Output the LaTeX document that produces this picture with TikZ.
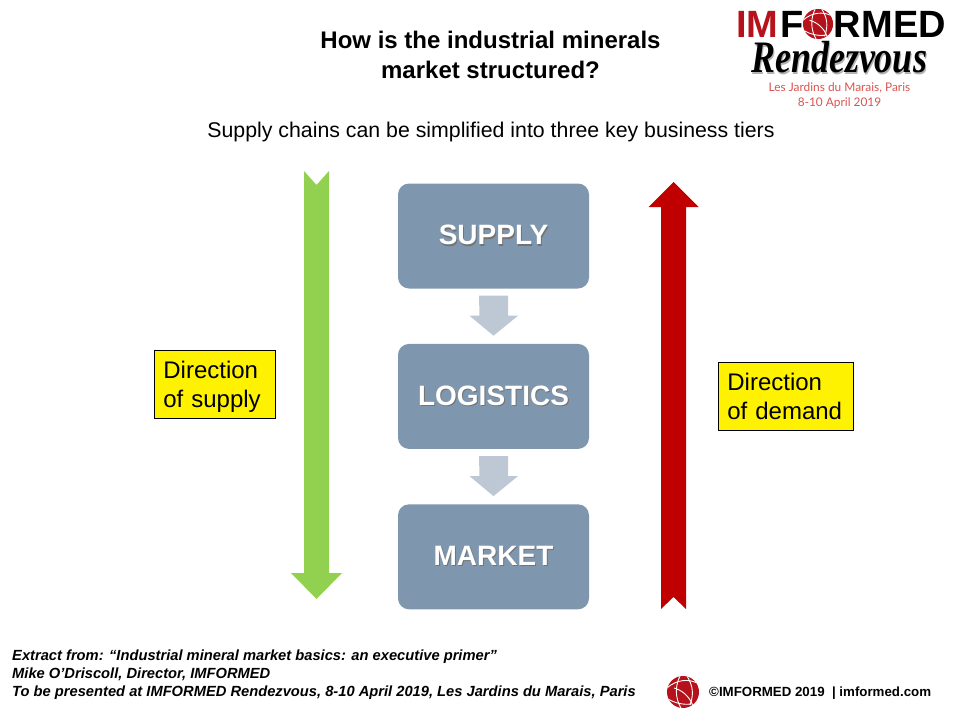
\documentclass[tikz,border=0pt]{standalone}
\usepackage{fontspec}
\setmainfont{Liberation Sans}
\newfontfamily\logoscriptfont{Liberation Serif}
\newfontfamily\logoplacefont{Lato}
\usetikzlibrary{positioning}
\definecolor{tierblue}{HTML}{7F97AE}
\definecolor{tierarrow}{HTML}{BEC8D5}
\definecolor{supplygreen}{HTML}{92D050}
\definecolor{demandred}{HTML}{C00000}
\definecolor{logored}{HTML}{B5121B}
\definecolor{datered}{HTML}{D9534F}
\newcommand{\shadowtext}[2][black!55]{\leavevmode\rlap{\raisebox{-1.5pt}{\kern1pt\textcolor{#1}{#2}}}#2}
\newcommand{\px}[1]{\fontsize{#1}{#1}\selectfont}
\tikzset{
  tierbox/.style={fill=tierblue,rounded corners=11pt,minimum width=191pt,minimum height=105pt,
    text=white,font=\bfseries\px{28},inner sep=0pt,text depth=2pt},
  notebox/.style={draw=black,line width=0.7pt,fill=yellow,anchor=north west,minimum height=68pt,
    align=left,inner xsep=9pt,inner ysep=0pt,text depth=29pt,font=\fontsize{24}{29}\selectfont},
  tiersmall/.style={fill=tierarrow},
  logoball/.pic={
    \fill[logored] (0,0) circle (16);
    \begin{scope}
      \clip (0,0) circle (16);
      \draw[white,line width=0.9pt] (-16,-4) .. controls (-6,-13) and (6,-13) .. (14,-9);
      \draw[white,line width=0.9pt] (-3,-16) .. controls (-8,-6) and (-8,6) .. (-2,16);
      \draw[white,line width=0.9pt] (-9,-4) .. controls (-2,-2) and (6,3) .. (10,14);
      \draw[white,line width=0.9pt] (4,-16) .. controls (10,-6) and (11,2) .. (7,13);
      \draw[white,line width=0.9pt] (-15,7) .. controls (-8,11) and (0,13) .. (8,12);
    \end{scope}
  }
}
\begin{document}
\begin{tikzpicture}[x=1pt,y=-1pt]
\useasboundingbox (0,0) rectangle (960,720);

\node[font=\bfseries\fontsize{24}{30}\selectfont,align=center] (title) at (490.5,55)
  {How is the industrial minerals\\market structured?};
\node[font=\px{21.3}] (subtitle) at (491,132)
  {Supply chains can be simplified into three key business tiers};

\node[tierbox] (supply) at (493.5,236) {\shadowtext{SUPPLY}};
\node[tierbox,below=55pt of supply] (logistics) {\shadowtext{LOGISTICS}};
\node[tierbox,below=55pt of logistics] (market) {\shadowtext{MARKET}};

\foreach \a/\b in {supply/logistics,logistics/market}
  \fill[tiersmall] ([xshift=-14.5pt,yshift=-7pt]\a.south) -- ++(29,0) -- ++(0,20) -- ++(10,0)
    -- ([yshift=8pt]\b.north) -- ++(-24,-20) -- ++(10,0) -- cycle;

\coordinate (supplytop) at (316.5,185);
\coordinate (supplytip) at (316.5,599);
\coordinate (demandtip) at (673.5,182);
\coordinate (demandend) at (673.5,597);
\fill[supplygreen] (supplytop) -- ++(-12.5,-14) -- ++(0,402) -- ++(-13,0) -- (supplytip)
  -- ++(25.5,-26) -- ++(-13,0) -- ++(0,-402) -- cycle;
\fill[demandred] (demandend) -- ++(-12.5,12) -- ++(0,-402) -- ++(-12.5,0) -- (demandtip)
  -- ++(25,25) -- ++(-12.5,0) -- ++(0,402) -- cycle;

\node[notebox,minimum width=121pt,text width=103pt] (supplynote) at (154,350)
  {Direction\\of supply};
\node[notebox,minimum width=135pt,text width=117pt] (demandnote) at (718,362)
  {Direction\\of demand};

\node[anchor=west,font=\bfseries\px{38},text=logored,inner sep=0pt] (logoim) at (736,24) {IM};
\node[anchor=west,font=\bfseries\px{38},inner sep=0pt] (logof) at (780,24) {F};
\pic[scale=0.94] at (818,24) {logoball};
\node[anchor=east,font=\bfseries\px{38},inner sep=0pt] (logormed) at (946,24) {RMED};
\node[font=\logoscriptfont\bfseries\itshape\px{36},inner sep=0pt,yscale=1.25,transform shape] (logoscript) at (839,58)
  {\shadowtext[black!30]{Rendezvous}};
\node[font=\logoplacefont\fontsize{11.9}{15}\selectfont,text=datered,align=center,inner sep=0pt] (logoplace) at (839.5,96)
  {Les Jardins du Marais, Paris\\8-10 April 2019};

\node[anchor=north west,align=left,inner sep=0pt,font=\bfseries\itshape\fontsize{14.7}{18}\selectfont] (extract) at (12,650)
  {Extract from: “Industrial mineral market basics: an executive primer”\\
   Mike O’Driscoll, Director, IMFORMED\\
   To be presented at IMFORMED Rendezvous, 8-10 April 2019, Les Jardins du Marais, Paris};
\pic at (683,692) {logoball};
\node[anchor=west,inner sep=0pt,font=\bfseries\px{13.3}] (copyright) at (709,693)
  {©IMFORMED 2019 ~| imformed.com};
\end{tikzpicture}
\end{document}
